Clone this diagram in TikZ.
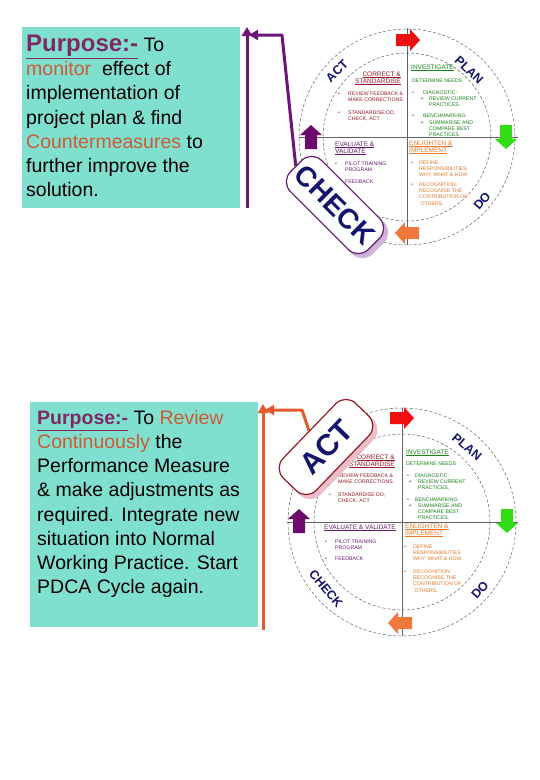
\documentclass[tikz,border=0pt]{standalone}
\usepackage{fontspec}
\setmainfont{Liberation Sans}
\newfontfamily\djv{DejaVu Sans}
\usetikzlibrary{arrows.meta}
\definecolor{boxteal}{RGB}{128,224,208}
\definecolor{purp}{RGB}{128,40,100}
\definecolor{rust}{RGB}{205,90,50}
\definecolor{purpcon}{RGB}{110,20,120}
\definecolor{orgcon}{RGB}{228,90,45}
\definecolor{navy}{RGB}{20,20,110}
\definecolor{actred}{RGB}{150,25,40}
\definecolor{plangreen}{RGB}{25,130,25}
\definecolor{checkpurp}{RGB}{105,25,115}
\definecolor{doorange}{RGB}{235,120,40}
\definecolor{arrred}{RGB}{240,15,15}
\definecolor{arrgreen}{RGB}{50,220,20}
\definecolor{arrorange}{RGB}{240,120,60}
\definecolor{arrpurple}{RGB}{110,10,110}
\definecolor{chkshadow}{RGB}{205,180,215}
\definecolor{actshadow}{RGB}{235,190,200}
\definecolor{ringgray}{RGB}{100,100,100}
\newcommand{\mk}{{\djv ➢}}
\newcommand{\pdcaarrow}[4]{%
  \begin{scope}[shift={(#1,#2)},rotate=#3]
    \fill[#4] (-12,-6) -- (2,-6) -- (2,-11) -- (12,0) -- (2,11) -- (2,6) -- (-12,6) -- cycle;
  \end{scope}}
\begin{document}
\begin{tikzpicture}[x=1pt,y=-1pt,
  bigtext/.style={inner sep=0pt, anchor=north west, align=left, font=\fontsize{19.5}{24.2}\selectfont},
  tinyt/.style={inner sep=0pt, font=\fontsize{5.2}{6.3}\selectfont, align=left, anchor=north west},
  tinyb/.style={inner sep=0pt, font=\fontsize{5.2}{6.3}\selectfont, anchor=base west},
  heads/.style={inner sep=0pt, font=\fontsize{6.5}{7}\selectfont, anchor=base west},
  ring/.style={inner sep=0pt, font=\fontsize{12.5}{12.5}\selectfont\bfseries, text=navy},
  badge/.style={rectangle, rounded corners=14pt, minimum width=110pt, minimum height=44pt, inner sep=0pt, line width=1.2pt},
  dashring/.style={ringgray, dashed, dash pattern=on 3pt off 2pt, line width=0.5pt},
  divider/.style={ringgray, line width=0.7pt},
  conn/.style={line width=3pt, -{Triangle[width=10pt,length=9pt]}}
]
\fill[white] (0,0) rectangle (540,780);
\useasboundingbox (0,0) rectangle (540,780);

%================ TOP PANEL =================
\fill[boxteal] (22,27) rectangle (240,208);
\node[bigtext] (ptext1) at (26,34.8) {{\color{purp}\fontsize{24}{24.2}\selectfont\bfseries\underline{Purpose:-}} To\\
{\color{rust}monitor}\ \ effect of\\
implementation of\\
project plan \& find\\
{\color{rust}Countermeasures} to\\
further improve the\\
solution.};

% circle
\draw[dashring] (407,137) circle[radius=108];
\draw[dashring] (407,137) circle[radius=84];
\coordinate (tvt) at (407,28); \coordinate (tvb) at (407,245);
\coordinate (thl) at (299,137); \coordinate (thr) at (518,137);
\draw[divider] (tvt) -- (tvb);
\draw[divider] (thl) -- (thr);

% ACT quadrant
\begin{scope}[text=actred]
\node[heads, anchor=base east] (ta1) at (401,76) {\underline{CORRECT \&}};
\node[heads, anchor=base east] (ta2) at (401,83) {\underline{STANDARDISE}};
\node[tinyb] (ta3) at (338,95) {•};
\node[tinyt] (ta4) at (348,91.3) {REVIEW FEEDBACK \&\\MAKE CORRECTIONS};
\node[tinyb] (ta5) at (338,114) {•};
\node[tinyt] (ta6) at (348,110.3) {STANDARDISE DO,\\CHECK, ACT};
\end{scope}
% PLAN quadrant
\begin{scope}[text=plangreen]
\node[heads] (tp1) at (411,69) {\underline{INVESTIGATE}};
\node[tinyb] (tp2) at (412,82) {DETERMINE NEEDS};
\node[tinyb] (tp3) at (412,94) {•};
\node[tinyb] (tp4) at (423,94) {DIAGNOSTIC:};
\node[tinyb] (tp5) at (420,100) {\mk};
\node[tinyt] (tp6) at (429,96.3) {REVIEW CURRENT\\PRACTICES.};
\node[tinyb] (tp7) at (412,117) {•};
\node[tinyb] (tp8) at (423,117) {BENCHMARKING:};
\node[tinyb] (tp9) at (420,124) {\mk};
\node[tinyt] (tp10) at (429,120.3) {SUMMARISE AND\\COMPARE BEST\\PRACTICES.};
\end{scope}
% CHECK quadrant
\begin{scope}[text=checkpurp]
\node[heads] (tc1) at (335,146) {\underline{EVALUATE \&}};
\node[heads] (tc2) at (335,153) {\underline{VALIDATE}};
\node[tinyb] (tc3) at (335,165) {•};
\node[tinyt] (tc4) at (345,161.3) {PILOT TRAINING\\PROGRAM};
\node[tinyb] (tc5) at (335,183) {•};
\node[tinyb] (tc6) at (345,183) {FEEDBACK};
\end{scope}
% DO quadrant
\begin{scope}[text=doorange]
\node[heads] (td1) at (409,145) {\underline{ENLIGHTEN \&}};
\node[heads] (td2) at (409,152) {\underline{IMPLEMENT}};
\node[tinyb] (td3) at (410,164) {\mk};
\node[tinyt] (td4) at (419,160.3) {DEFINE\\RESPONSIBILITIES\\WHY, WHAT \& HOW};
\node[tinyb] (td5) at (410,186) {\mk};
\node[tinyt] (td6) at (419,182.3) {RECOGNITION:\\RECOGNISE THE\\CONTRIBUTION OF\\\ OTHERS.};
\end{scope}

% ring labels
\node[ring, rotate=45] (tlact) at (337,71) {ACT};
\node[ring, rotate=-44] (tlplan) at (469,70) {PLAN};
\node[ring, rotate=50] (tldo) at (482,201) {DO};

% block arrows
\pdcaarrow{408}{40}{0}{arrred}
\pdcaarrow{506}{137}{-90}{arrgreen}
\pdcaarrow{407}{233}{180}{arrorange}
\pdcaarrow{311}{137}{90}{arrpurple}

% CHECK badge
\node[badge, rotate=-45, fill=chkshadow, draw=chkshadow] (chkshad) at (339,209) {};
\node[badge, rotate=-45, fill=white, draw=checkpurp] (chkbadge) at (335,205)
  {\fontsize{28}{28}\selectfont\bfseries\color{navy}CHECK};

% connectors
\coordinate (pv1) at (247,208); \coordinate (pv2) at (247,27);
\draw[conn, purpcon] (pv1) -- (pv2);
\coordinate (pbend) at (282,35); \coordinate (ptip) at (249,35);
\draw[conn, purpcon, line join=round] (chkbadge.west) -- (pbend) -- (ptip);

%================ BOTTOM PANEL =================
\fill[boxteal] (30,402) rectangle (258,627);
\node[bigtext] (ptext2) at (37,410) {{\color{purp}\bfseries\underline{Purpose:-}} To {\color{rust}Review}\\
{\color{rust}Continuously} the\\
Performance Measure\\
\& make adjustments as\\
required. Integrate new\\
situation into Normal\\
Working Practice. Start\\
PDCA Cycle again.};

\draw[dashring] (402,522) circle[radius=114];
\draw[dashring] (402,522) circle[radius=88];
\coordinate (bvt) at (402,408); \coordinate (bvb) at (402,636);
\coordinate (bhl) at (287,522); \coordinate (bhr) at (518,522);
\draw[divider] (bvt) -- (bvb);
\draw[divider] (bhl) -- (bhr);

% ACT quadrant
\begin{scope}[text=actred]
\node[heads, anchor=base east] (ba1) at (395,459) {\underline{CORRECT \&}};
\node[heads, anchor=base east] (ba2) at (395,466) {\underline{STANDARDISE}};
\node[tinyb] (ba3) at (329,477) {•};
\node[tinyt] (ba4) at (338,473.3) {REVIEW FEEDBACK \&\\MAKE CORRECTIONS};
\node[tinyb] (ba5) at (329,496) {•};
\node[tinyt] (ba6) at (338,492.3) {STANDARDISE DO,\\CHECK, ACT};
\end{scope}
% PLAN quadrant
\begin{scope}[text=plangreen]
\node[heads] (bp1) at (406,454) {\underline{INVESTIGATE}};
\node[tinyb] (bp2) at (406,465) {DETERMINE NEEDS};
\node[tinyb] (bp3) at (407,477) {•};
\node[tinyb] (bp4) at (415,477) {DIAGNOSTIC:};
\node[tinyb] (bp5) at (408,483) {\mk};
\node[tinyt] (bp6) at (418,479.3) {REVIEW CURRENT\\PRACTICES.};
\node[tinyb] (bp7) at (407,501) {•};
\node[tinyb] (bp8) at (415,501) {BENCHMARKING:};
\node[tinyb] (bp9) at (408,507) {\mk};
\node[tinyt] (bp10) at (418,503.3) {SUMMARISE AND\\COMPARE BEST\\PRACTICES.};
\end{scope}
% CHECK quadrant
\begin{scope}[text=checkpurp]
\node[heads] (bc1) at (324,529) {\underline{EVALUATE \& VALIDATE}};
\node[tinyb] (bc3) at (325,543) {•};
\node[tinyt] (bc4) at (335,539.3) {PILOT TRAINING\\PROGRAM};
\node[tinyb] (bc5) at (325,560) {•};
\node[tinyb] (bc6) at (335,560) {FEEDBACK};
\end{scope}
% DO quadrant
\begin{scope}[text=doorange]
\node[heads] (bd1) at (405,528) {\underline{ENLIGHTEN \&}};
\node[heads] (bd2) at (405,535) {\underline{IMPLEMENT}};
\node[tinyb] (bd3) at (403,548) {\mk};
\node[tinyt] (bd4) at (413,544.3) {DEFINE\\RESPONSIBILITIES\\WHY, WHAT \& HOW};
\node[tinyb] (bd5) at (403,573) {\mk};
\node[tinyt] (bd6) at (413,569.3) {RECOGNITION:\\RECOGNISE THE\\CONTRIBUTION OF\\\ OTHERS.};
\end{scope}

% ring labels
\node[ring, rotate=-40] (blplan) at (467,447) {PLAN};
\node[ring, rotate=-50] (blcheck) at (326,589) {CHECK};
\node[ring, rotate=48] (bldo) at (480,590) {DO};

% block arrows
\pdcaarrow{402}{418}{0}{arrred}
\pdcaarrow{507}{521}{-90}{arrgreen}
\pdcaarrow{400}{623}{180}{arrorange}
\pdcaarrow{299}{521}{90}{arrpurple}

% ACT badge
\node[badge, rotate=46, minimum width=104pt, minimum height=46pt, fill=actshadow, draw=actshadow] (actshad) at (330,451) {};
\node[badge, rotate=46, minimum width=104pt, minimum height=46pt, fill=white, draw=actred] (actbadge) at (326,447)
  {\fontsize{30}{30}\selectfont\bfseries\color{navy}ACT};

% connectors
\coordinate (ov1) at (263,630); \coordinate (ov2) at (263,404);
\draw[conn, orgcon] (ov1) -- (ov2);
\coordinate (obend) at (302,410); \coordinate (otip) at (265,410);
\draw[conn, orgcon, line join=round] (actbadge.north) -- (obend) -- (otip);
\end{tikzpicture}
\end{document}
